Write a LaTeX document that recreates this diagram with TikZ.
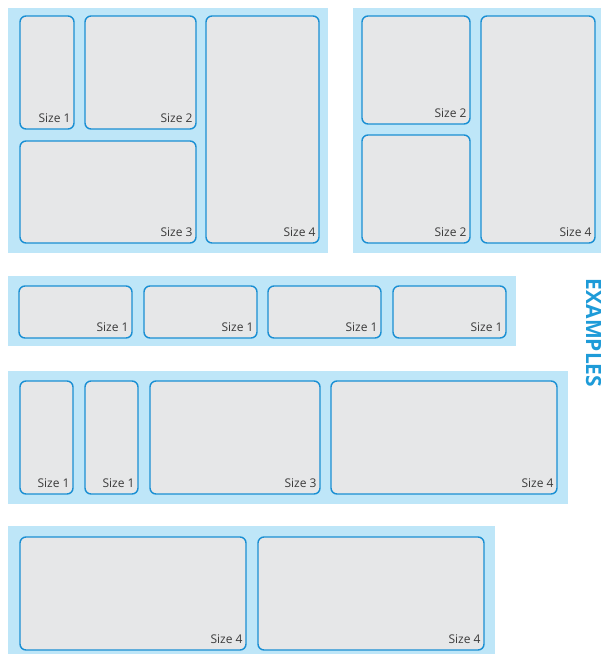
\documentclass[tikz,border=0pt]{standalone}
\usepackage{fontspec}
\setmainfont{Open Sans}
\definecolor{bgblue}{HTML}{BEE6F8}
\definecolor{boxfill}{HTML}{E6E7E8}
\definecolor{boxline}{HTML}{1A8FD3}
\definecolor{txt}{HTML}{3A3A3A}
\definecolor{titleblue}{HTML}{1E9BD8}
\tikzset{
  sizebox/.style={draw=boxline, fill=boxfill, line width=1.4pt, rounded corners=6pt, inner sep=0pt},
  lbl/.style={text=txt, font=\fontsize{12}{13}\selectfont, inner sep=0pt},
  panel/.style={fill=bgblue}
}
\newcommand\mybox[6]{%
  \pgfmathsetmacro\bw{#4-#2}%
  \pgfmathsetmacro\bh{#5-#3}%
  \node[sizebox, minimum width=\bw pt, minimum height=\bh pt] (#1) at ({(#2+#4)/2},{(#3+#5)/2}) {};
  \node[lbl, anchor=base east] (#1-l) at ([xshift=-4pt,yshift=7pt]#1.south east) {#6};
}
\begin{document}
\begin{tikzpicture}[x=1pt,y=-1pt]
\useasboundingbox (0,0) rectangle (601,654);
% panels
\fill[panel] (8,8) rectangle (328,253);
\fill[panel] (353,8) rectangle (601,253);
\fill[panel] (8,276) rectangle (516,346);
\fill[panel] (8,371) rectangle (568,504);
\fill[panel] (8,526) rectangle (495,654);
% panel 1
\mybox{a1}{20}{16}{74}{129}{Size 1}
\mybox{a2}{85}{16}{196}{129}{Size 2}
\mybox{a3}{20}{141}{196}{243}{Size 3}
\mybox{a4}{206}{16}{319}{243}{Size 4}
% panel 2
\mybox{b1}{362}{16}{470}{124}{Size 2}
\mybox{b2}{362}{135}{470}{243}{Size 2}
\mybox{b3}{481}{16}{595}{243}{Size 4}
% panel 3
\mybox{c1}{19}{286}{132}{338}{Size 1}
\mybox{c2}{144}{286}{257}{338}{Size 1}
\mybox{c3}{268}{286}{381}{338}{Size 1}
\mybox{c4}{393}{286}{506}{338}{Size 1}
% panel 4
\mybox{d1}{20}{381}{73}{494}{Size 1}
\mybox{d2}{85}{381}{138}{494}{Size 1}
\mybox{d3}{150}{381}{320}{494}{Size 3}
\mybox{d4}{331}{381}{557}{494}{Size 4}
% panel 5
\mybox{e1}{20}{537}{246}{650}{Size 4}
\mybox{e2}{258}{537}{484}{650}{Size 4}
% title
\node[rotate=-90, text=titleblue, font=\bfseries\fontsize{21}{21}\selectfont, inner sep=0pt] (ex) at (593.5,333) {EXAMPLES};
\end{tikzpicture}
\end{document}
